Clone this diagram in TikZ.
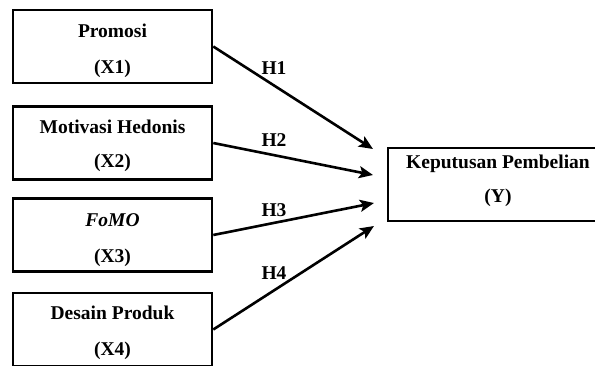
\documentclass[tikz,border=0pt]{standalone}
\usepackage{fontspec}
\setmainfont{Liberation Serif}
\usetikzlibrary{arrows.meta}
\begin{document}
\begin{tikzpicture}[x=1pt,y=-1pt,
  varbox/.style={draw,line width=2.6pt,minimum width=199pt,minimum height=73pt,inner sep=0pt},
  lbl/.style={font=\fontsize{19.5}{22}\selectfont\bfseries,inner sep=0pt},
  conn/.style={line width=2.6pt,-{Stealth[length=14pt,width=12pt,inset=3pt]}}]
\useasboundingbox (0,0) rectangle (595,365);
% boxes
\node[varbox] (b1) at (112.5,46.5) {};
\node[varbox] (b2) at (112.5,143) {};
\node[varbox] (b3) at (112.5,235) {};
\node[varbox] (b4) at (112.5,329.5) {};
\node[varbox,minimum width=214pt] (by) at (495,184.5) {};
% texts
\node[lbl] (t1a) at (112.5,31) {Promosi};
\node[lbl] (t1b) at (112.5,69) {(X1)};
\node[lbl] (t2a) at (112.5,127) {Motivasi Hedonis};
\node[lbl] (t2b) at (112.5,163) {(X2)};
\node[lbl] (t3a) at (112.5,220) {\itshape FoMO};
\node[lbl] (t3b) at (112.5,258) {(X3)};
\node[lbl] (t4a) at (112.5,313) {Desain Produk};
\node[lbl] (t4b) at (112.5,351) {(X4)};
\node[lbl] (tya) at (498,164) {Keputusan Pembelian};
\node[lbl] (tyb) at (498,198) {(Y)};
% arrow tips
\coordinate (e1) at (373,149);
\coordinate (e2) at (373,175);
\coordinate (e3) at (374,203);
\coordinate (e4) at (374,226);
\draw[conn] (b1.east) -- (e1);
\draw[conn] (b2.east) -- (e2);
\draw[conn] (b3.east) -- (e3);
\draw[conn] (b4.east) -- (e4);
% labels
\node[lbl] (h1) at (274,68) {H1};
\node[lbl] (h2) at (274,140) {H2};
\node[lbl] (h3) at (274,210) {H3};
\node[lbl] (h4) at (274,273) {H4};
\end{tikzpicture}
\end{document}
